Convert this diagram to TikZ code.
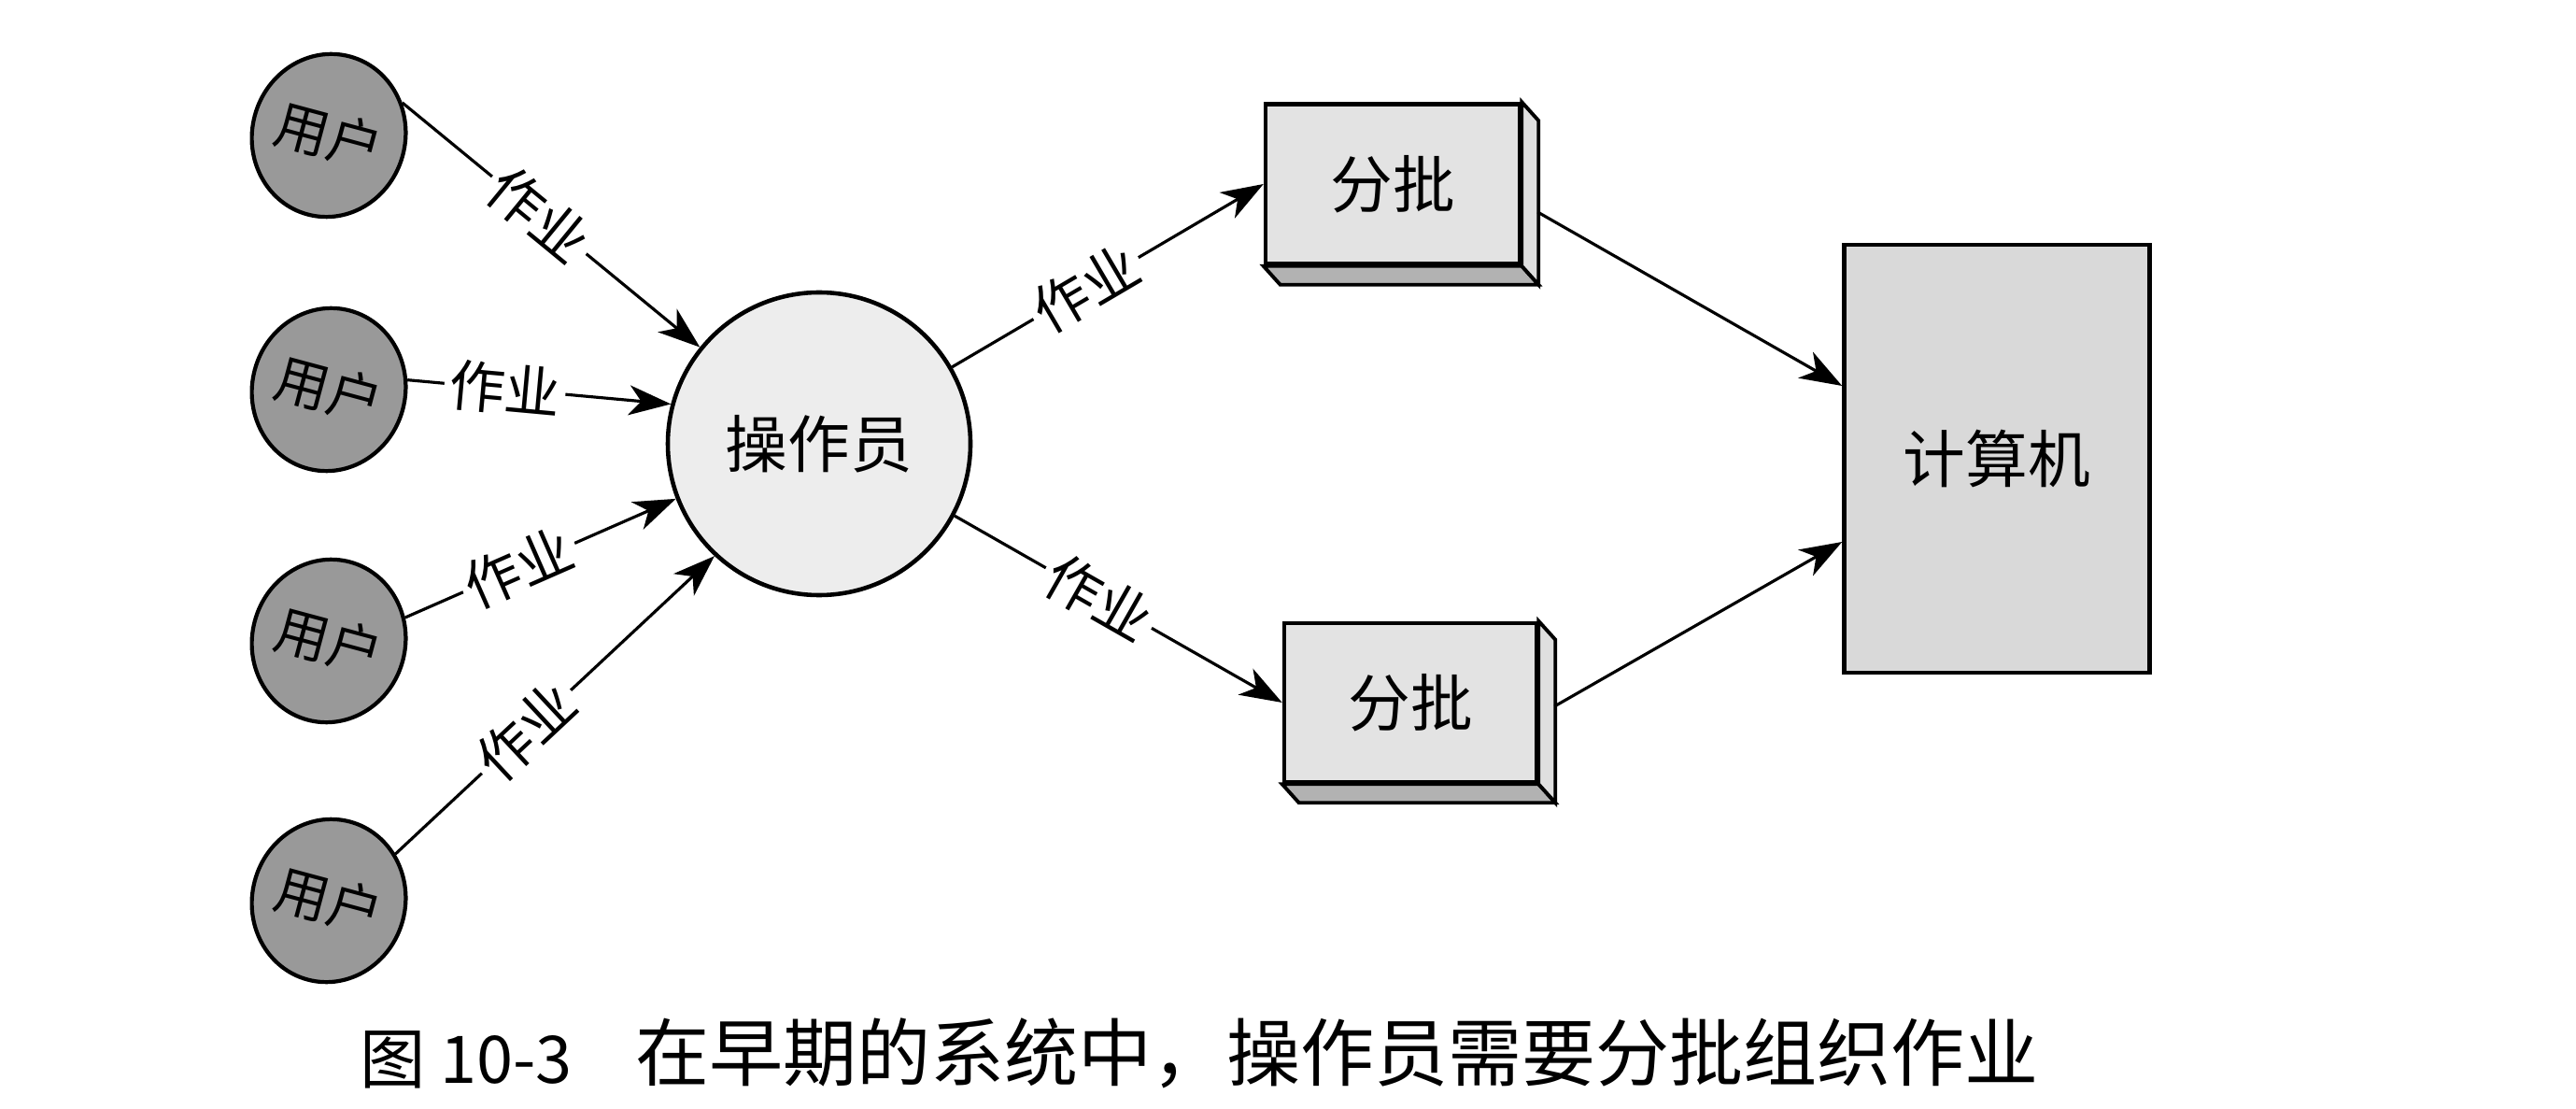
\documentclass[tikz,border=0pt]{standalone}
\usepackage{fontspec}
\newfontfamily\cjk{Noto Sans CJK SC}
\usetikzlibrary{shapes.geometric,arrows.meta}

\begin{document}
\begin{tikzpicture}[font=\cjk,
        user/.style={ellipse, draw, line width=1.2pt, fill=black!40, minimum width=1.43cm,
            minimum height=1.75cm, inner sep=0pt, rotate=-15, font=\cjk\fontsize{16.5}{16.5}\selectfont},
        job/.style={line width=0.9pt, -{Stealth[length=4.5mm,width=3.2mm,inset=1.3mm]}},
        lbl/.style={sloped, fill=white, inner sep=1.5pt, font=\cjk\fontsize{17}{17}\selectfont},
        box/.style={draw, line width=1.3pt, inner sep=0pt, font=\cjk\fontsize{19}{19}\selectfont}]
        \useasboundingbox (0,0) rectangle (27.58,11.86);
        % users
        \foreach \i/\y in {1/10.41, 2/7.69, 3/5.00, 4/2.22}
            \node[user] (u\i) at (3.52,\y) {用户};
        \node[box, circle, fill=gray!14, minimum size=3.24cm] (op) at (8.77,7.11) {操作员};
        \node[box, fill=gray!22, minimum width=2.72cm, minimum height=1.71cm] (b1) at (14.91,9.89) {分批};
        \node[box, fill=gray!22, minimum width=2.70cm, minimum height=1.70cm] (b2) at (15.10,4.34) {分批};
        \node[box, fill=gray!30, minimum width=3.27cm, minimum height=4.58cm] (comp) at (21.38,6.95) {计算机};
        % depth of the batch boxes
        \foreach \b in {b1,b2} {
            \draw[line width=1.1pt, fill=gray!60] (\b.south west) -- ([shift={(0.18,-0.2)}]\b.south west)
                -- ([shift={(0.18,-0.2)}]\b.south east) -- (\b.south east) -- cycle;
            \draw[line width=1.1pt, fill=gray!25] (\b.north east) -- ([shift={(0.18,-0.2)}]\b.north east)
                -- ([shift={(0.18,-0.2)}]\b.south east) -- (\b.south east) -- cycle;
        }
        % jobs to the operator
        \foreach \i/\s/\e/\p in {1/39/141/0.46, 2/22/165/0.37, 3/32/201/0.42, 4/50/227/0.41}
            \draw[job] (u\i.\s) -- node[lbl, pos=\p] {作业} (op.\e);
        % operator to batches
        \draw[job] (op.30) -- node[lbl, pos=0.43] {作业} (b1.west);
        \draw[job] (op.332) -- node[lbl, pos=0.44] {作业} (b2.west);
        % batches to computer
        \draw[job] ([shift={(0.17,-0.3)}]b1.east) -- ([yshift=0.78cm]comp.west);
        \draw[job] ([shift={(0.17,-0.04)}]b2.east) -- ([yshift=-0.89cm]comp.west);
        % caption
        \node[anchor=west, font=\cjk\fontsize{20}{20}\selectfont] (capnum) at (3.73,0.52) {图 10-3};
        \node[anchor=west, font=\cjk\fontsize{22.5}{22.5}\selectfont] (captext) at (6.68,0.59)
            {在早期的系统中，操作员需要分批组织作业};
\end{tikzpicture}
\end{document}
